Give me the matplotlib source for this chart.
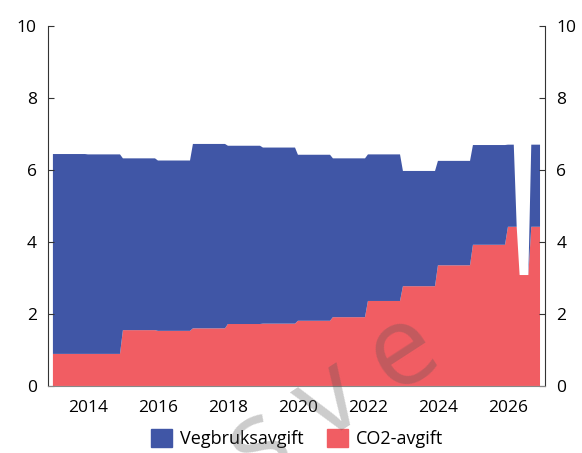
import numpy as np
import matplotlib.pyplot as plt
from matplotlib.patches import Patch

plt.rcParams['font.family'] = ['Open Sans', 'DejaVu Sans']

# årlige satser 2013-2025 (kr per liter)
years = list(range(2013, 2026))
vegbruk_aar = [5.55, 5.54, 4.77, 4.73, 5.12, 4.95, 4.89, 4.61, 4.41, 4.07, 3.20, 2.90, 2.77]
co2_aar = [0.89, 0.89, 1.55, 1.53, 1.60, 1.72, 1.73, 1.81, 1.91, 2.36, 2.77, 3.35, 3.92]

# 2026 måned for måned
vegbruk_2026 = [2.28, 2.28, 2.28, 0, 0, 0, 0, 0, 2.28, 2.28, 2.28, 2.28]
co2_2026 = [4.42, 4.42, 4.42, 4.42, 3.08, 3.08, 3.08, 3.08, 4.42, 4.42, 4.42, 4.42]

xticks = [2014, 2016, 2018, 2020, 2022, 2024, 2026]
yticks = [0, 2, 4, 6, 8, 10]

blue = '#4056a6'
red = '#f15d63'

vegbruk = np.concatenate([np.repeat(vegbruk_aar, 12), vegbruk_2026])
co2 = np.concatenate([np.repeat(co2_aar, 12), co2_2026])
x = years[0] + np.arange(len(co2)) / 12

fig = plt.figure(figsize=(5.82, 4.53), dpi=100)
ax = fig.add_axes([0.0825, 0.148, 0.854, 0.795])

ax.stackplot(x, co2, vegbruk, colors=[red, blue], linewidth=0)

ax.set_xlim(2012.86, 2027.06)
ax.set_ylim(0, 10)
ax.set_xticks(xticks)
ax.set_xticklabels([str(t) for t in xticks], fontsize=12.5)
ax.tick_params(axis='x', length=0, pad=10)
ax.set_yticks(yticks)
ax.tick_params(axis='y', direction='in', length=4, labelsize=12.5, color='#333333',
               left=True, right=True, labelleft=True, labelright=True, pad=8)
ax.spines['top'].set_visible(False)
ax.spines['bottom'].set_color('#888888')
for s in ['left', 'right']:
    ax.spines[s].set_color('#333333')

handles = [Patch(color=blue, label='Vegbruksavgift'), Patch(color=red, label='CO2-avgift')]
fig.legend(handles=handles, loc='lower center', bbox_to_anchor=(0.51, -0.025), ncol=2,
           frameon=False, fontsize=13, handlelength=1.2, handleheight=1.2,
           handletextpad=0.4, columnspacing=1.3)

# vannmerke
fig.text(0.575, 0.115, 's v e', fontsize=80, rotation=33, color='#555555', alpha=0.3,
         ha='center', va='center', zorder=10)

fig.savefig('out.png', dpi=100)
